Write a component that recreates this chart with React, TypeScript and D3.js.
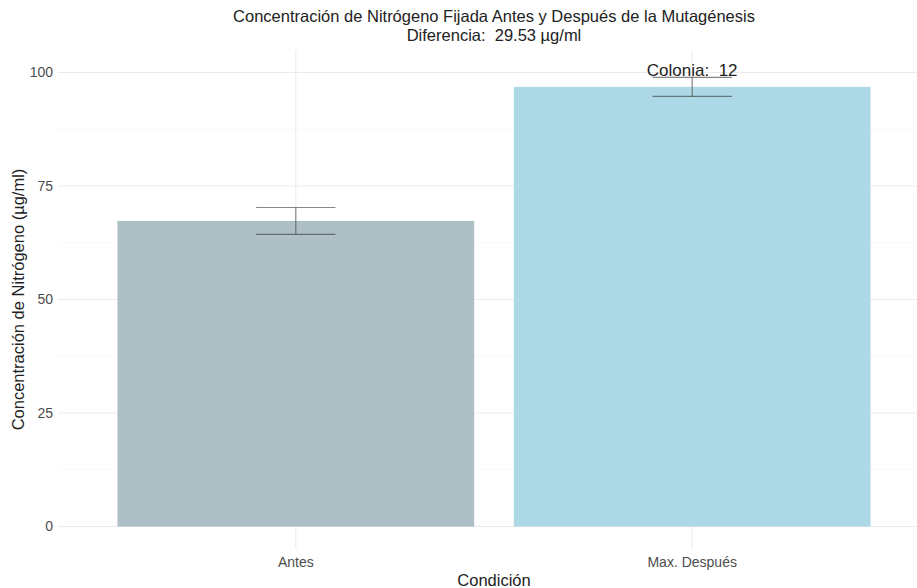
import React from "react";
import * as d3 from "d3";

const categories = ["Antes", "Max. Después"];
const means = [67.3, 96.83];
const errors = [2.95, 2.1];
const barColors = ["#aebfc6", "#add8e6"];
const yTicks = [0, 25, 50, 75, 100];
const yMinor = [12.5, 37.5, 62.5, 87.5];
const colonyLabel = "Colonia:  12";
const title = "Concentración de Nitrógeno Fijada Antes y Después de la Mutagénesis";
const subtitle = "Diferencia:  29.53 µg/ml";

const W = 917;
const H = 588;
const font = "'Liberation Sans', Arial, sans-serif";
const pre = { whiteSpace: "pre" as const };

const App = () => {
  const panel = { left: 58, right: 930, top: 50, bottom: 549 };

  // discrete axis like ggplot: positions 1..n, expanded 0.6 each side
  const x = d3
    .scaleLinear()
    .domain([0.4, categories.length + 0.6])
    .range([panel.left, panel.right]);
  const y = d3.scaleLinear().domain([-4.95, 104.95]).range([panel.bottom, panel.top]);

  const barW = x(1.45) - x(1);
  const whiskerW = x(1.1) - x(1);
  const cx = panel.left + (panel.right - panel.left) / 2;

  return (
    <svg width={W} height={H} style={{ position: "absolute", left: 0, top: 0, background: "#fff" }}>
      <rect width={W} height={H} fill="#fff" />
      <g>
        {yMinor.map((t) => (
          <line key={"m" + t} x1={panel.left} x2={panel.right} y1={y(t)} y2={y(t)} stroke="#f3f3f3" strokeWidth={0.6} />
        ))}
        {yTicks.map((t) => (
          <line key={"g" + t} x1={panel.left} x2={panel.right} y1={y(t)} y2={y(t)} stroke="#ebebeb" strokeWidth={1} />
        ))}
        {categories.map((c, i) => (
          <line key={"v" + c} x1={x(i + 1)} x2={x(i + 1)} y1={panel.top} y2={panel.bottom} stroke="#ebebeb" strokeWidth={1} />
        ))}
      </g>
      <g>
        {categories.map((c, i) => (
          <rect
            key={c}
            x={x(i + 1) - barW}
            y={y(means[i])}
            width={barW * 2}
            height={y(0) - y(means[i])}
            fill={barColors[i]}
          />
        ))}
      </g>
      <g stroke="#333" strokeOpacity={0.6} strokeWidth={1.1}>
        {categories.map((c, i) => {
          const px = x(i + 1);
          const hi = y(means[i] + errors[i]);
          const lo = y(means[i] - errors[i]);
          return (
            <g key={"e" + c}>
              <line x1={px} x2={px} y1={hi} y2={lo} />
              <line x1={px - whiskerW} x2={px + whiskerW} y1={hi} y2={hi} />
              <line x1={px - whiskerW} x2={px + whiskerW} y1={lo} y2={lo} />
            </g>
          );
        })}
      </g>
      <text
        x={x(2)}
        y={y(means[1] + errors[1]) - 1}
        textAnchor="middle"
        fontFamily={font}
        fontSize={17}
        fill="#222"
        style={pre}
      >
        {colonyLabel}
      </text>
      <g fontFamily={font} fontSize={14} fill="#4d4d4d">
        {yTicks.map((t) => (
          <text key={"yl" + t} x={53} y={y(t)} dy="0.35em" textAnchor="end">
            {t}
          </text>
        ))}
        {categories.map((c, i) => (
          <text key={"xl" + c} x={x(i + 1)} y={567} textAnchor="middle">
            {c}
          </text>
        ))}
      </g>
      <text x={cx} y={586} textAnchor="middle" fontFamily={font} fontSize={16.5} fill="#222">
        Condición
      </text>
      <text
        transform={`translate(24, ${(panel.top + panel.bottom) / 2}) rotate(-90)`}
        textAnchor="middle"
        fontFamily={font}
        fontSize={16.5}
        fill="#222"
      >
        Concentración de Nitrógeno (µg/ml)
      </text>
      <text x={cx} y={22} textAnchor="middle" fontFamily={font} fontSize={16.5} fill="#222">
        {title}
      </text>
      <text x={cx} y={41} textAnchor="middle" fontFamily={font} fontSize={16.5} fill="#222" style={pre}>
        {subtitle}
      </text>
    </svg>
  );
};

export default App;
